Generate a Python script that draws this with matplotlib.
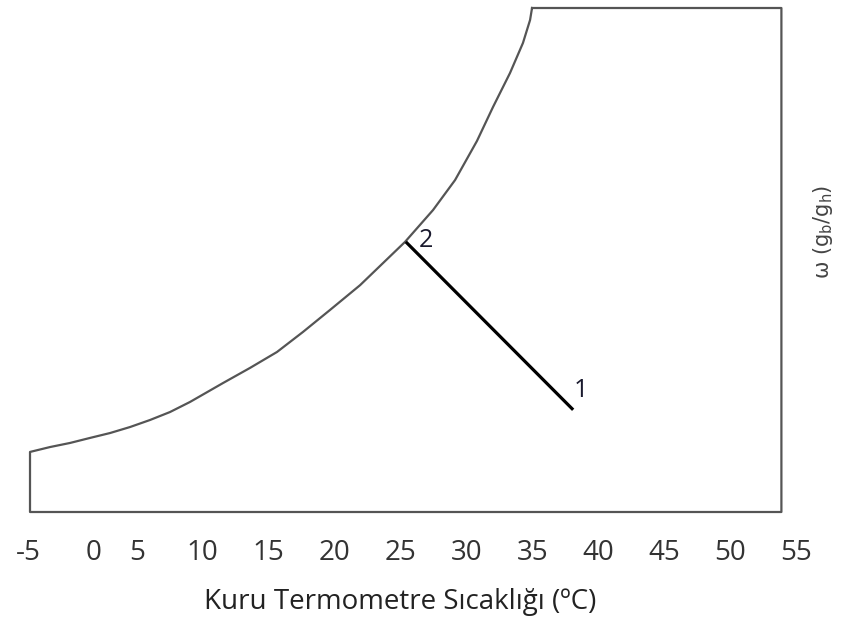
import matplotlib.pyplot as plt
from matplotlib.transforms import ScaledTranslation

# saturation curve (dry bulb temperature, humidity ratio)
sat_t = [-3.11, -1.59, -0.08, 1.44, 2.96, 4.48, 5.99, 7.51, 9.03, 11.53, 13.58, 15.63,
         17.60, 19.65, 21.93, 25.34, 27.47, 29.14, 30.80, 32.02, 33.31,
         34.29, 34.83, 34.98]
sat_w = [4.29, 4.64, 4.93, 5.29, 5.64, 6.07, 6.57, 7.14, 7.86, 9.21, 10.29, 11.43,
         12.86, 14.43, 16.20, 19.29, 21.57, 23.71, 26.50, 28.93, 31.36,
         33.50, 35.14, 36.0]

# chart boundary
t_right = 53.9
w_top = 36.0

# process 1 -> 2
proc_t = [38.1, 25.4]
proc_w = [7.3, 19.3]
proc_labels = ['1', '2']

tick_vals = [-5, 0, 5, 10, 15, 20, 25, 30, 35, 40, 45, 50, 55]

fig = plt.figure(figsize=(8.41, 6.19), dpi=100)
ax = fig.add_axes([0, (619 - 520) / 619, 1, 520 / 619])
ax.set_xlim(-71 / 13.18, 770 / 13.18)
ax.set_ylim(-8 / 14, 512 / 14)

outline_t = [sat_t[-1], t_right, t_right, sat_t[0], sat_t[0]] + sat_t
outline_w = [w_top, w_top, 0, 0, sat_w[0]] + sat_w
ax.plot(outline_t, outline_w, color='#555555', lw=1.6, solid_joinstyle='round')

ax.plot(proc_t, proc_w, color='black', lw=2.3, solid_capstyle='butt')
ax.text(proc_t[0] + 0.05, proc_w[0] + 0.5, proc_labels[0], fontsize=18,
        color='#1a1a2e', ha='left', va='bottom', family='Open Sans')
ax.text(proc_t[1] + 1.0, proc_w[1] + 0.1, proc_labels[1], fontsize=18,
        color='#1a1a2e', ha='left', va='center', family='Open Sans')

ax.set_xticks(tick_vals)
ax.set_xticklabels([str(v) for v in tick_vals], fontsize=20, family='Open Sans',
                   color='#333333')
ax.tick_params(axis='x', length=0, pad=14)
# the first two labels sit a little right of their nominal place in the reference
for lab, dx in zip(ax.get_xticklabels()[:2], [17 / 72, 16 / 72]):
    lab.set_transform(lab.get_transform() + ScaledTranslation(dx, 0, fig.dpi_scale_trans))
ax.set_yticks([])
for s in ax.spines.values():
    s.set_visible(False)

fig.text(400 / 841, 1 - 602 / 619, 'Kuru Termometre Sıcaklığı (ºC)', ha='center',
         va='center', fontsize=20, family='Open Sans', color='#222222')

plt.rcParams['mathtext.default'] = 'regular'
fig.text(823 / 841, 1 - 232 / 619, r'ω (g$_b$/g$_h$)', rotation=90, ha='center',
         va='center', fontsize=15, color='#444444')

fig.savefig('out.png', dpi=100)
